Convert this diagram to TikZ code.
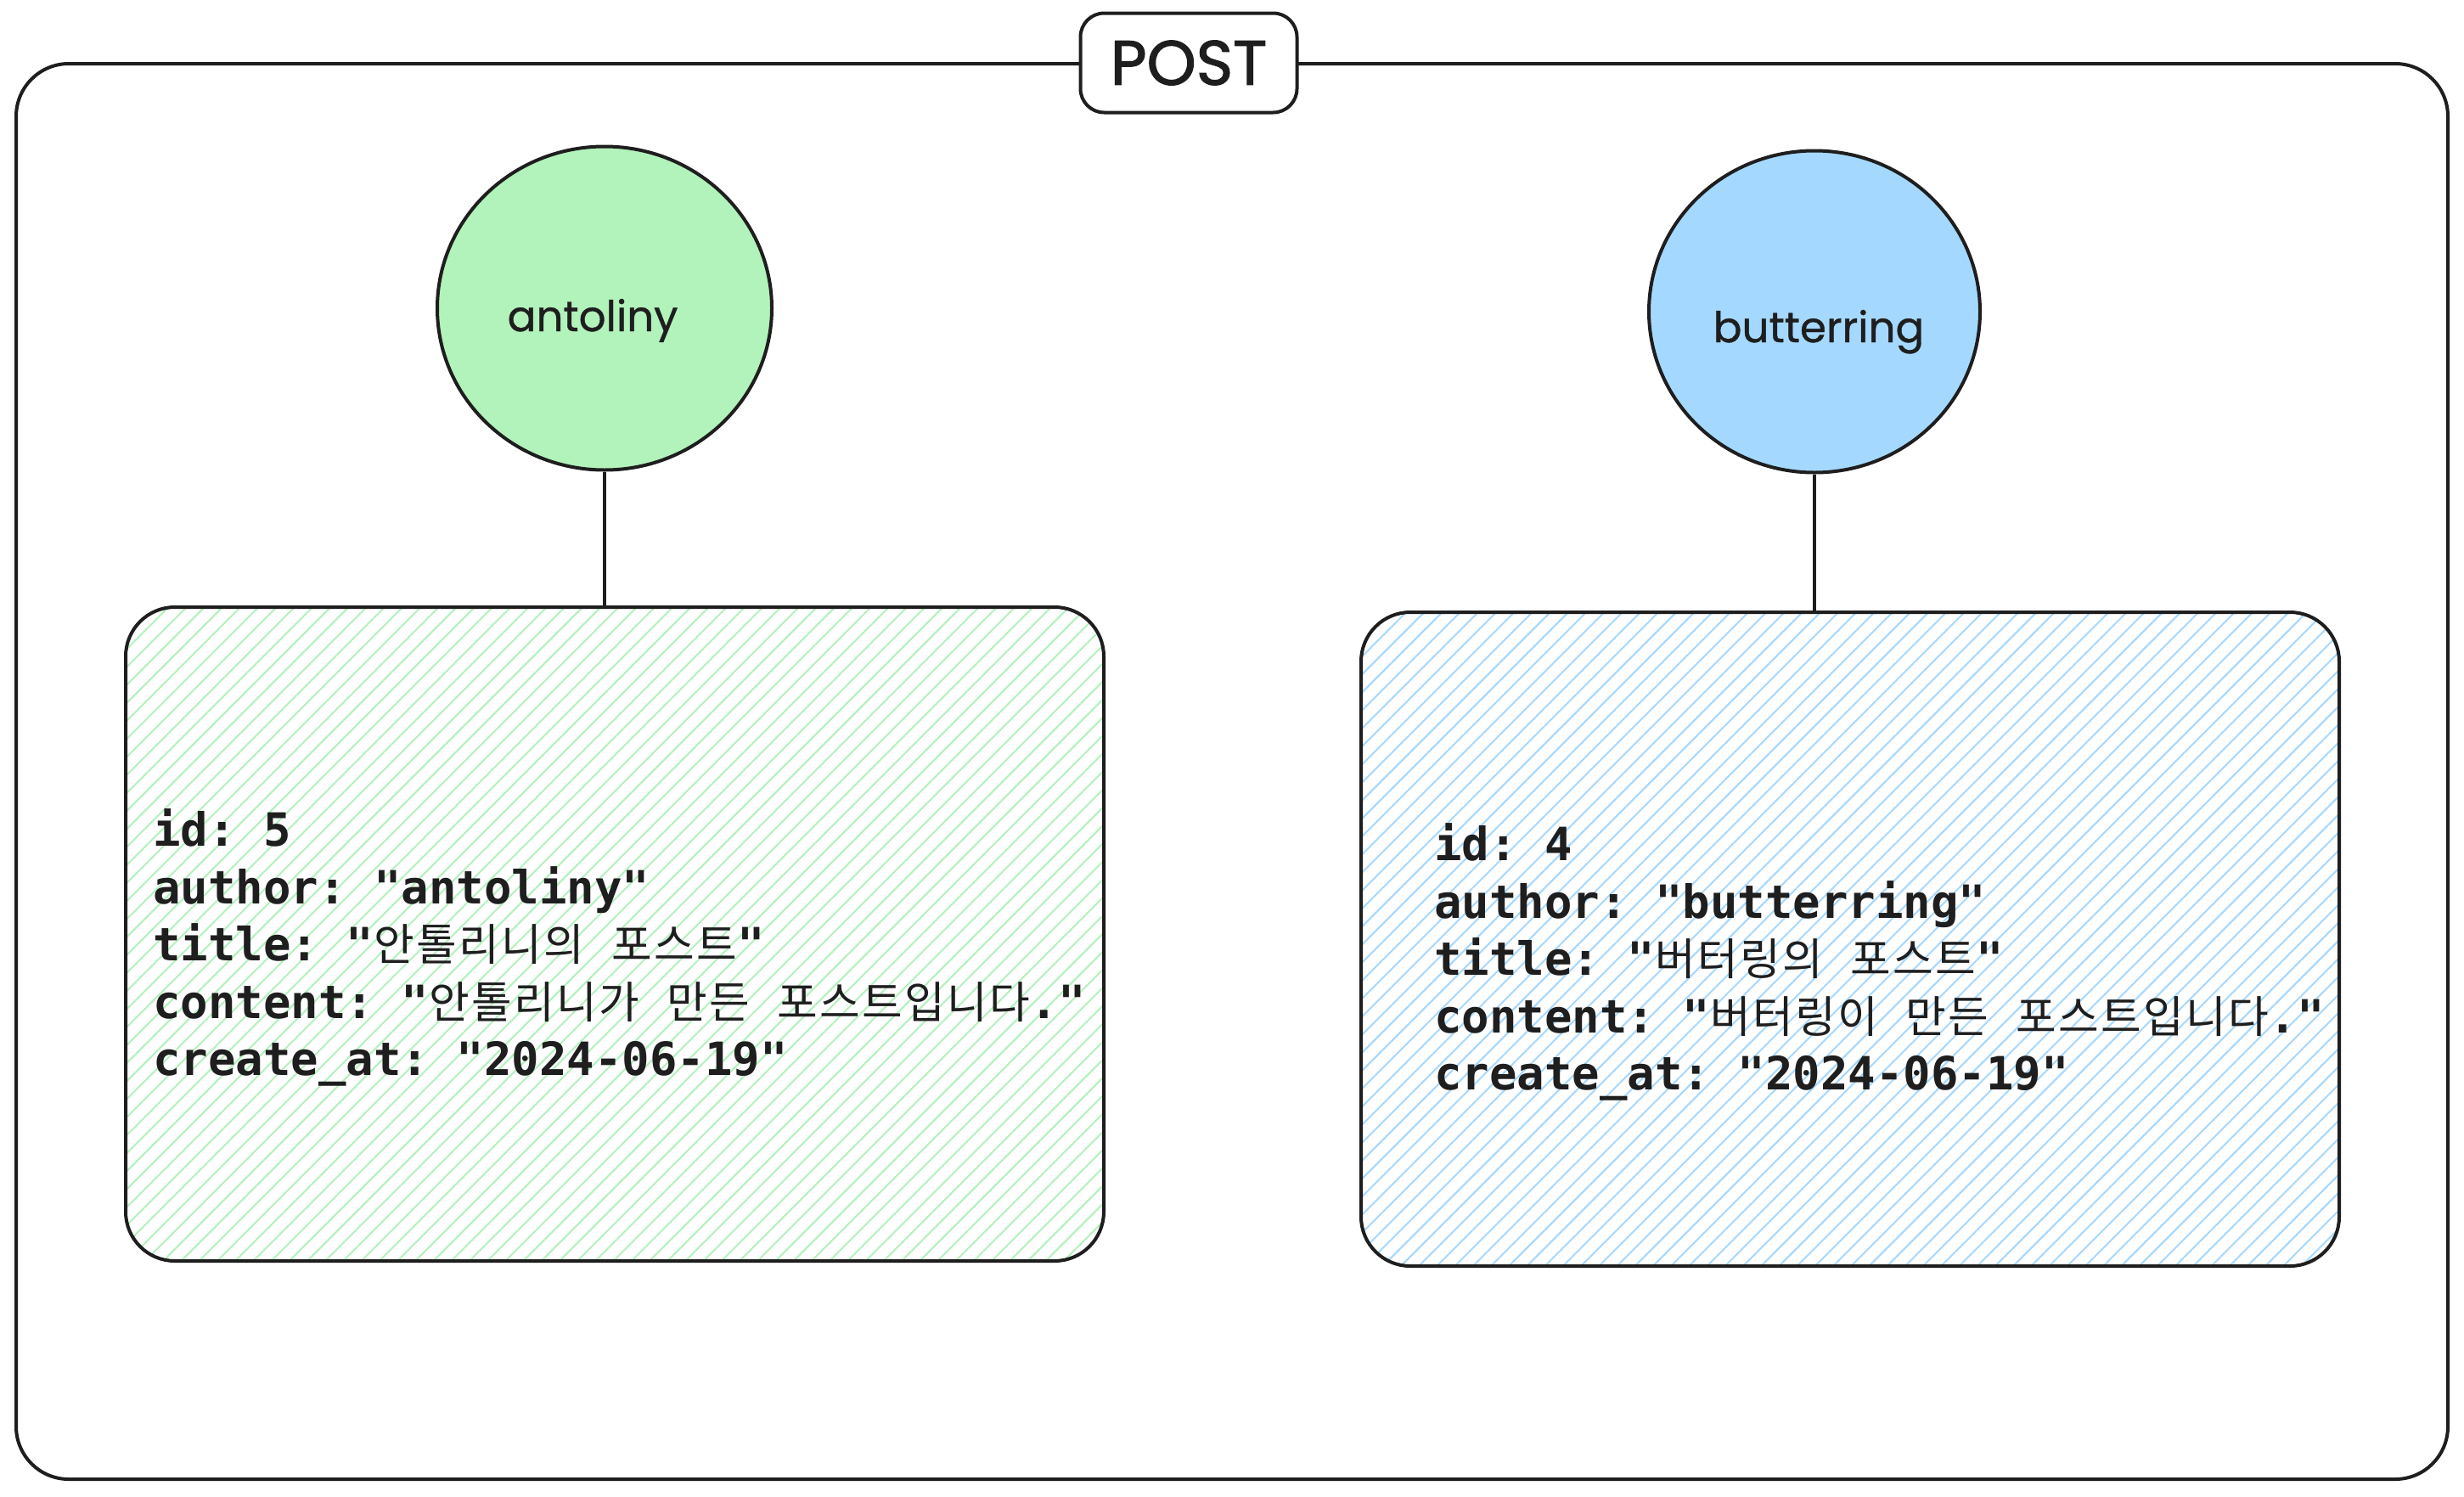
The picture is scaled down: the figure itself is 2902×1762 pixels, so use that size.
\documentclass[tikz,border=0pt]{standalone}
\usepackage{fontspec}
\setmonofont{DejaVu Sans Mono}
\newfontfamily\krfont[Scale=0.96,LetterSpace=4.5]{Noto Sans CJK KR}
\newfontfamily\handfont[FakeBold=0.8]{Poppins}
\newfontfamily\handboldfont[FakeBold=1.6]{Poppins}
\newcommand\kor[1]{{\krfont\mdseries #1}}
\usetikzlibrary{shapes.geometric,patterns.meta}
\definecolor{ink}{HTML}{1E1E1E}
\definecolor{gfill}{HTML}{B2F2BB}
\definecolor{bfill}{HTML}{A5D8FF}
\begin{document}
\begin{tikzpicture}[x=1pt,y=-1pt,
  outline/.style={draw=ink, line width=4pt},
  bubble/.style={outline, ellipse, inner sep=0pt},
  recbox/.style={outline, rectangle, rounded corners=58pt, inner sep=0pt, minimum width=1152pt, minimum height=770pt},
  hatch/.style={pattern={Lines[angle=45,distance=15pt,line width=2pt]}, pattern color=#1},
  code/.style={inner sep=0pt, anchor=west, align=left, text=ink, font=\fontsize{54}{67.6}\selectfont\ttfamily\bfseries},
  handtext/.style={inner sep=0pt, text=ink, font=\fontsize{50}{60}\selectfont\handfont},
  link/.style={draw=ink, line width=3.5pt}
]
\useasboundingbox (0,0) rectangle (2902,1762);
\fill[white] (0,0) rectangle (2902,1762);

% outer frame and title
\node[outline, rectangle, rounded corners=62pt, minimum width=2864pt, minimum height=1667pt, inner sep=0pt] (frame) at (1451,908.5) {};
\node[outline, fill=white, rounded corners=28pt, minimum width=255pt, minimum height=117pt, inner sep=0pt, text=ink, font=\fontsize{74}{80}\selectfont\handboldfont] (post) at (1400,74) {POST};

% circles
\node[bubble, fill=gfill, minimum width=394pt, minimum height=381pt] (gcirc) at (712,363) {};
\node[bubble, fill=bfill, minimum width=390pt, minimum height=379pt] (bcirc) at (2137,367) {};
\node[handtext, anchor=base] (gname) at (698,390) {antoliny};
\node[handtext, anchor=base] (bname) at (2142,403) {butterring};

% boxes
\node[recbox, hatch=gfill] (gbox) at (724,1100) {};
\node[recbox, hatch=bfill] (bbox) at (2179,1106) {};

% connectors
\draw[link] (gcirc.south) -- (gcirc.south |- gbox.north);
\draw[link] (bcirc.south) -- (bcirc.south |- bbox.north);

% texts
\node[code] (gtext) at (180,1116) {id: 5\\
author: "antoliny"\\
title: "\kor{안톨리니의} \kor{포스트}"\\
content: "\kor{안톨리니가} \kor{만든} \kor{포스트입니다}."\\
create\_at: "2024-06-19"};
\node[code] (btext) at (1689,1133) {id: 4\\
author: "butterring"\\
title: "\kor{버터링의} \kor{포스트}"\\
content: "\kor{버터링이} \kor{만든} \kor{포스트입니다}."\\
create\_at: "2024-06-19"};
\end{tikzpicture}
\end{document}
